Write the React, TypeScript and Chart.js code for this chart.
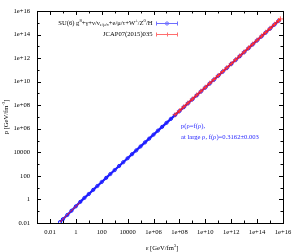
import React, { useEffect, useRef } from "react";
import { Chart, registerables } from "chart.js";

Chart.register(...registerables);

const blueEps = [0.06, 0.1, 0.22, 0.46, 1, 2.2, 4.6, 10, 22, 46, 100, 220, 460, 1e3, 2.2e3, 4.6e3, 1e4, 2.2e4, 4.6e4, 1e5, 2.2e5, 4.6e5, 1e6, 2.2e6, 4.6e6, 1e7, 2.2e7, 4.6e7, 1e8, 2.2e8, 4.6e8, 1e9, 2.2e9, 4.6e9, 1e10, 2.2e10, 4.6e10, 1e11, 2.2e11, 4.6e11, 1e12, 2.2e12, 4.6e12, 1e13, 2.2e13, 4.6e13, 1e14, 2.2e14, 4.6e14, 1e15, 2.2e15, 4.6e15];
const blueP = [0.012, 0.021, 0.048, 0.11, 0.26, 0.62, 1.35, 2.9, 6.5, 13.8, 30.5, 68, 143, 312, 690, 1450, 3150, 6950, 1.45e4, 3.16e4, 6.95e4, 1.45e5, 3.16e5, 6.95e5, 1.45e6, 3.16e6, 6.95e6, 1.45e7, 3.16e7, 6.95e7, 1.45e8, 3.16e8, 6.95e8, 1.45e9, 3.16e9, 6.95e9, 1.45e10, 3.16e10, 6.95e10, 1.45e11, 3.16e11, 6.95e11, 1.45e12, 3.16e12, 6.95e12, 1.45e13, 3.16e13, 6.95e13, 1.45e14, 3.16e14, 6.95e14, 1.45e15];

const redLowEps = [0.06, 0.1, 0.2, 0.4, 0.7, 1.2, 2];
const redLowP = [0.012, 0.021, 0.045, 0.095, 0.175, 0.31, 0.52];

const redHighEps = [4.6e7, 1e8, 2.2e8, 4.6e8, 1e9, 2.2e9, 4.6e9, 1e10, 2.2e10, 4.6e10, 1e11, 2.2e11, 4.6e11, 1e12, 2.2e12, 4.6e12, 1e13, 2.2e13, 4.6e13, 1e14, 2.2e14, 4.6e14, 1e15, 2.2e15, 4.6e15, 6.3e15];
const redHighP = [1.55e7, 3.3e7, 7.3e7, 1.52e8, 3.3e8, 7.3e8, 1.52e9, 3.3e9, 7.3e9, 1.52e10, 3.3e10, 7.3e10, 1.52e11, 3.3e11, 7.3e11, 1.52e12, 3.3e12, 7.3e12, 1.52e13, 3.3e13, 7.3e13, 1.52e14, 3.3e14, 7.3e14, 1.52e15, 2.1e15];

const xExps = [-3, -2, -1, 0, 1, 2, 3, 4, 5, 6, 7, 8, 9, 10, 11, 12, 13, 14, 15, 16];
const yExps = [-2, -1, 0, 1, 2, 3, 4, 5, 6, 7, 8, 9, 10, 11, 12, 13, 14, 15, 16];

const legend1 = [["SU(6) g", "n"], ["8", "sup"], ["+γ+ν/ν", "n"], ["e/μ/τ", "sub"], ["+e/μ/τ+W", "n"], ["±", "sup"], ["/Z", "n"], ["0", "sup"], ["/H", "n"]];
const legend2 = [["JCAP07(2015)035", "n"]];
const note1 = "p(ρ=f(ρ),";
const note2 = "at large ρ, f(ρ)=0.3162±0.003";
const xTitle = [["ε [GeV/fm", "n"], ["3", "sup"], ["]", "n"]];
const yTitle = [["p [GeV/fm", "n"], ["-3", "sup"], ["]", "n"]];

const FAM = '"Liberation Serif", serif';
const FS = 6.6;
const BLUE = "rgb(30,30,255)";
const RED = "rgb(255,30,30)";

function fmt(e: number): string {
  if (e % 2 !== 0 || e < -2) return "";
  if (e === -2) return "0.01";
  if (e <= 4) return String(Math.pow(10, e));
  return "1e+" + (e < 10 ? "0" + e : String(e));
}

function richWidth(ctx: CanvasRenderingContext2D, segs: string[][], size: number) {
  let w = 0;
  for (const [t, m] of segs) {
    ctx.font = `${m === "n" ? size : size * 0.7}px ${FAM}`;
    w += ctx.measureText(t).width;
  }
  return w;
}

function drawRich(ctx: CanvasRenderingContext2D, segs: string[][], x: number, y: number, size: number, color: string) {
  let cx = x;
  ctx.fillStyle = color;
  ctx.textBaseline = "middle";
  ctx.textAlign = "left";
  for (const [t, m] of segs) {
    const s = m === "n" ? size : size * 0.7;
    ctx.font = `${s}px ${FAM}`;
    const dy = m === "sup" ? -size * 0.35 : m === "sub" ? size * 0.3 : 0;
    ctx.fillText(t, cx, y + dy);
    cx += ctx.measureText(t).width;
  }
}

const decor = {
  id: "decor",
  afterDraw(chart: any) {
    const ctx = chart.ctx as CanvasRenderingContext2D;
    const { left, right, top, bottom } = chart.chartArea;
    const xs = chart.scales.x;
    const ys = chart.scales.y;
    ctx.save();
    ctx.strokeStyle = "#000";
    ctx.lineWidth = 1;
    ctx.strokeRect(Math.round(left) + 0.5, Math.round(top) + 0.5, Math.round(right - left), Math.round(bottom - top));
    ctx.beginPath();
    for (const e of xExps) {
      const px = Math.round(xs.getPixelForValue(Math.pow(10, e))) + 0.5;
      const L = e % 2 === 0 ? 4 : 2.5;
      ctx.moveTo(px, bottom);
      ctx.lineTo(px, bottom - L);
      ctx.moveTo(px, top);
      ctx.lineTo(px, top + L);
    }
    for (const e of yExps) {
      const py = Math.round(ys.getPixelForValue(Math.pow(10, e))) + 0.5;
      const L = e % 2 === 0 ? 4 : 2.5;
      ctx.moveTo(left, py);
      ctx.lineTo(left + L, py);
      ctx.moveTo(right, py);
      ctx.lineTo(right - L, py);
    }
    ctx.stroke();

    // axis titles
    const xw = richWidth(ctx, xTitle, FS);
    drawRich(ctx, xTitle, (left + right) / 2 - xw / 2 + 2, 248, FS, "#000");
    ctx.save();
    ctx.translate(6, (top + bottom) / 2);
    ctx.rotate(-Math.PI / 2);
    const yw = richWidth(ctx, yTitle, FS);
    drawRich(ctx, yTitle, -yw / 2, 0, FS, "#000");
    ctx.restore();

    // legend
    const lx = 152.5;
    const w1 = richWidth(ctx, legend1, FS);
    drawRich(ctx, legend1, lx - w1, 23, FS, "#000");
    const w2 = richWidth(ctx, legend2, FS);
    drawRich(ctx, legend2, lx - w2, 34, FS, "#000");
    const s0 = 156, s1 = 178;
    // blue sample
    ctx.strokeStyle = "rgb(110,110,255)";
    ctx.lineWidth = 1;
    ctx.beginPath();
    ctx.moveTo(s0, 23.5); ctx.lineTo(s1, 23.5);
    ctx.moveTo(s0 + 0.5, 21.5); ctx.lineTo(s0 + 0.5, 25.5);
    ctx.moveTo(s1 - 0.5, 21.5); ctx.lineTo(s1 - 0.5, 25.5);
    ctx.stroke();
    ctx.beginPath();
    ctx.arc((s0 + s1) / 2, 23.5, 1.6, 0, Math.PI * 2);
    ctx.stroke();
    // red sample
    ctx.strokeStyle = "rgb(255,110,110)";
    ctx.beginPath();
    ctx.moveTo(s0, 34.5); ctx.lineTo(s1, 34.5);
    ctx.moveTo(s0 + 0.5, 32.5); ctx.lineTo(s0 + 0.5, 36.5);
    ctx.moveTo(s1 - 0.5, 32.5); ctx.lineTo(s1 - 0.5, 36.5);
    const mx = (s0 + s1) / 2;
    ctx.moveTo(mx - 2, 34.5); ctx.lineTo(mx + 2, 34.5);
    ctx.moveTo(mx + 0.5, 32.5); ctx.lineTo(mx + 0.5, 36.5);
    ctx.stroke();

    // annotation
    drawRich(ctx, [[note1, "n"]], 181, 126, FS, "rgb(40,40,255)");
    drawRich(ctx, [[note2, "n"]], 181, 137, FS, "rgb(40,40,255)");
    ctx.restore();
  },
};

function pts(xs: number[], ys: number[]) {
  return xs.map((x, i) => ({ x, y: ys[i] }));
}

export default function App() {
  const ref = useRef<HTMLCanvasElement | null>(null);
  useEffect(() => {
    if (!ref.current) return;
    const chart = new Chart(ref.current, {
      type: "scatter",
      data: {
        datasets: [
          {
            label: "JCAP07(2015)035",
            data: pts(redHighEps, redHighP),
            showLine: true,
            borderColor: RED,
            backgroundColor: RED,
            borderWidth: 1.5,
            pointStyle: "cross",
            pointRadius: 2.6,
            pointBorderColor: "rgba(255,60,60,0.85)",
            pointBorderWidth: 1,
            order: 1,
          },
          {
            label: "JCAP low",
            data: pts(redLowEps, redLowP),
            showLine: true,
            borderColor: RED,
            borderWidth: 1,
            pointRadius: 0,
            order: 1,
          },
          {
            label: "SU(6)",
            data: pts(blueEps, blueP),
            showLine: true,
            borderColor: BLUE,
            backgroundColor: "rgba(0,0,0,0)",
            borderWidth: 2.2,
            pointStyle: "circle",
            pointRadius: 1.6,
            pointBorderColor: BLUE,
            pointBorderWidth: 1,
            order: 2,
          },
        ],
      },
      options: {
        animation: false,
        responsive: false,
        maintainAspectRatio: false,
        layout: { padding: { top: 5, right: 16, left: 0, bottom: 0 } },
        plugins: { legend: { display: false }, tooltip: { enabled: false } },
        font: { family: FAM },
        scales: {
          x: {
            type: "logarithmic",
            min: 1e-3,
            max: 1e16,
            border: { display: false },
            grid: { display: false, drawTicks: false },
            afterBuildTicks: (s: any) => {
              s.ticks = xExps.map((e) => ({ value: Math.pow(10, e) }));
            },
            afterFit: (s: any) => {
              s.height = 29;
            },
            ticks: {
              autoSkip: false,
              maxRotation: 0,
              minRotation: 0,
              padding: 5,
              color: "#000",
              font: { family: FAM, size: FS },
              callback: (v: any) => fmt(Math.round(Math.log10(Number(v)))),
            },
          },
          y: {
            type: "logarithmic",
            min: 1e-2,
            max: 1e16,
            border: { display: false },
            grid: { display: false, drawTicks: false },
            afterBuildTicks: (s: any) => {
              s.ticks = yExps.map((e) => ({ value: Math.pow(10, e) }));
            },
            afterFit: (s: any) => {
              s.width = 37;
            },
            ticks: {
              autoSkip: false,
              padding: 7,
              color: "#000",
              font: { family: FAM, size: FS },
              callback: (v: any) => fmt(Math.round(Math.log10(Number(v)))),
            },
          },
        },
      },
      plugins: [decor],
    } as any);
    return () => chart.destroy();
  }, []);
  return (
    <div style={{ position: "fixed", left: 0, top: 0, width: 299, height: 252, background: "#fff" }}>
      <canvas ref={ref} width={299} height={252} style={{ width: 299, height: 252 }} />
    </div>
  );
}
